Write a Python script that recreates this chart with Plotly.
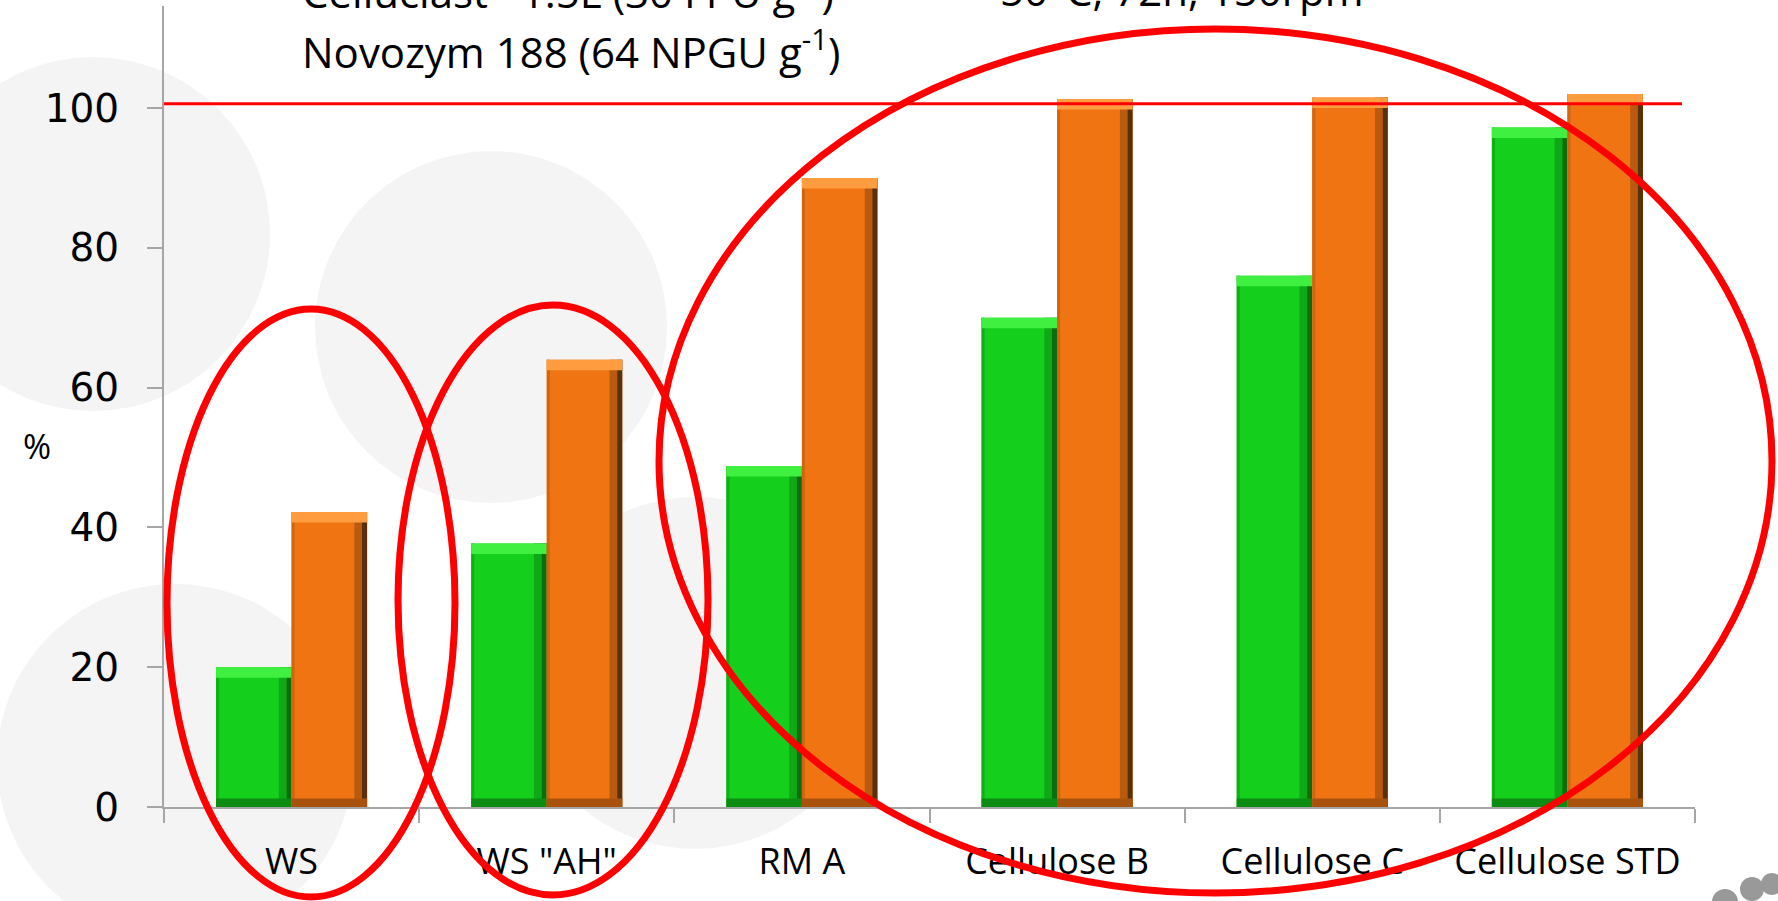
import plotly.graph_objects as go

categories = ["WS", "WS \"AH\"", "RM A", "Cellulose B", "Cellulose C", "Cellulose STD"]
green_values = [20, 37.7, 48.8, 70, 76, 97.2]
orange_values = [42.2, 64, 90, 101.3, 101.5, 102]
y_ticks = [0, 20, 40, 60, 80, 100]
reference_level = 100.6
line1_left = "Celluclast   1.5L (30 FPU g<sup>-1</sup>)"
line1_right = "50°C, 72h, 150rpm"
line2 = "Novozym 188 (64 NPGU g<sup>-1</sup>)"

W, H = 1778, 901
L, R, T, B = 164, 83, 6, 94
PW, PH = W - L - R, H - T - B
FONT = "Open Sans"


def px(xp):
    return (xp - L) / PW


def py(yp):
    return (H - B - yp) / PH


fig = go.Figure()

BW = 0.296  # bar width in category units


def add_bevel(values, offset, body, top, bottom, edge_in, edge_out, left_edge):
    n = len(values)
    x = categories
    common = dict(x=x, hoverinfo="skip", showlegend=False)
    fig.add_trace(go.Bar(y=values, offset=offset, width=BW, marker=dict(color=body, line=dict(width=0)), **common))
    fig.add_trace(go.Bar(y=values, offset=offset, width=0.012, marker=dict(color=left_edge, line=dict(width=0)), **common))
    fig.add_trace(go.Bar(y=values, offset=offset + BW - 0.05, width=0.03, marker=dict(color=edge_in, line=dict(width=0)), **common))
    fig.add_trace(go.Bar(y=values, offset=offset + BW - 0.02, width=0.02, marker=dict(color=edge_out, line=dict(width=0)), **common))
    fig.add_trace(go.Bar(y=[1.2] * n, base=[0] * n, offset=offset, width=BW, marker=dict(color=bottom, line=dict(width=0)), **common))
    fig.add_trace(go.Bar(y=[1.5] * n, base=[v - 1.5 for v in values], offset=offset, width=BW,
                         marker=dict(color=top, line=dict(width=0)), **common))


add_bevel(green_values, -BW, "#14cf1c", "#40f040", "#0c8c12", "#0fa816", "#0a6e0e", "#0fb016")
add_bevel(orange_values, 0.0, "#f07512", "#ff9c40", "#a8520e", "#b85a10", "#5a3008", "#d4650f")

shapes = []
# background decorative circles
for cx, cy, r in [(93, 234, 177), (491, 327, 176), (175, 762, 178), (695, 673, 176)]:
    shapes.append(dict(type="circle", xref="paper", yref="paper", layer="below",
                       x0=px(cx - r), x1=px(cx + r), y0=py(cy + r), y1=py(cy - r),
                       fillcolor="#f4f4f4", line=dict(width=0)))
# logo dots bottom right
for cx, cy, r in [(1725, 902, 13), (1752, 889, 12), (1772, 884, 11)]:
    shapes.append(dict(type="circle", xref="paper", yref="paper", layer="above",
                       x0=px(cx - r), x1=px(cx + r), y0=py(cy + r), y1=py(cy - r),
                       fillcolor="#999999", line=dict(width=0)))
# red reference line
shapes.append(dict(type="line", xref="paper", yref="y", x0=0, x1=px(1682),
                   y0=reference_level, y1=reference_level, line=dict(color="#ff0000", width=3)))
# red ellipses
for x0, x1, y0, y1 in [(167, 455, 309, 897), (398, 708, 305, 895), (659, 1772, 29, 893)]:
    shapes.append(dict(type="circle", xref="paper", yref="paper",
                       x0=px(x0), x1=px(x1), y0=py(y1), y1=py(y0),
                       line=dict(color="#ff0000", width=7)))

annotations = [
    dict(text="%", xref="paper", yref="paper", x=px(37), y=py(446), showarrow=False,
         xanchor="center", yanchor="middle",
         font=dict(family=FONT, size=34, color="#000000")),
    dict(text=line2, xref="paper", yref="paper", x=px(300), y=py(49), xanchor="left", yanchor="middle",
         showarrow=False, font=dict(family=FONT, size=42, color="#000000")),
    dict(text=line1_left, xref="paper", yref="paper", x=px(300), y=py(-10), xanchor="left", yanchor="middle",
         showarrow=False, font=dict(family=FONT, size=42, color="#000000")),
    dict(text=line1_right, xref="paper", yref="paper", x=px(998), y=py(-10), xanchor="left", yanchor="middle",
         showarrow=False, font=dict(family=FONT, size=42, color="#000000")),
]

fig.update_layout(
    width=W, height=H,
    margin=dict(l=L, r=R, t=T, b=B, pad=0, autoexpand=False),
    paper_bgcolor="white", plot_bgcolor="rgba(0,0,0,0)",
    barmode="overlay",
    showlegend=False,
    shapes=shapes,
    annotations=annotations,
    xaxis=dict(type="category", categoryorder="array", categoryarray=categories,
               range=[-0.5, 5.5], tickson="boundaries", ticks="outside", ticklen=14,
               tickcolor="#a6a6a6", tickwidth=2, showline=True, linecolor="#a6a6a6", linewidth=2,
               showgrid=False, zeroline=False, ticklabelstandoff=22, automargin=False,
               tickfont=dict(family=FONT, size=36, color="#000000")),
    yaxis=dict(range=[0, 114.6], tickvals=y_ticks, ticks="outside", ticklen=15,
               tickcolor="#a6a6a6", tickwidth=2, showline=True, linecolor="#a6a6a6", linewidth=2,
               showgrid=False, zeroline=False, ticklabelstandoff=20, automargin=False,
               tickfont=dict(family="DejaVu Sans", size=39, color="#000000")),
)

fig.write_html("out.html", config={"displayModeBar": False},
               post_script="document.body.style.margin='0px';")
